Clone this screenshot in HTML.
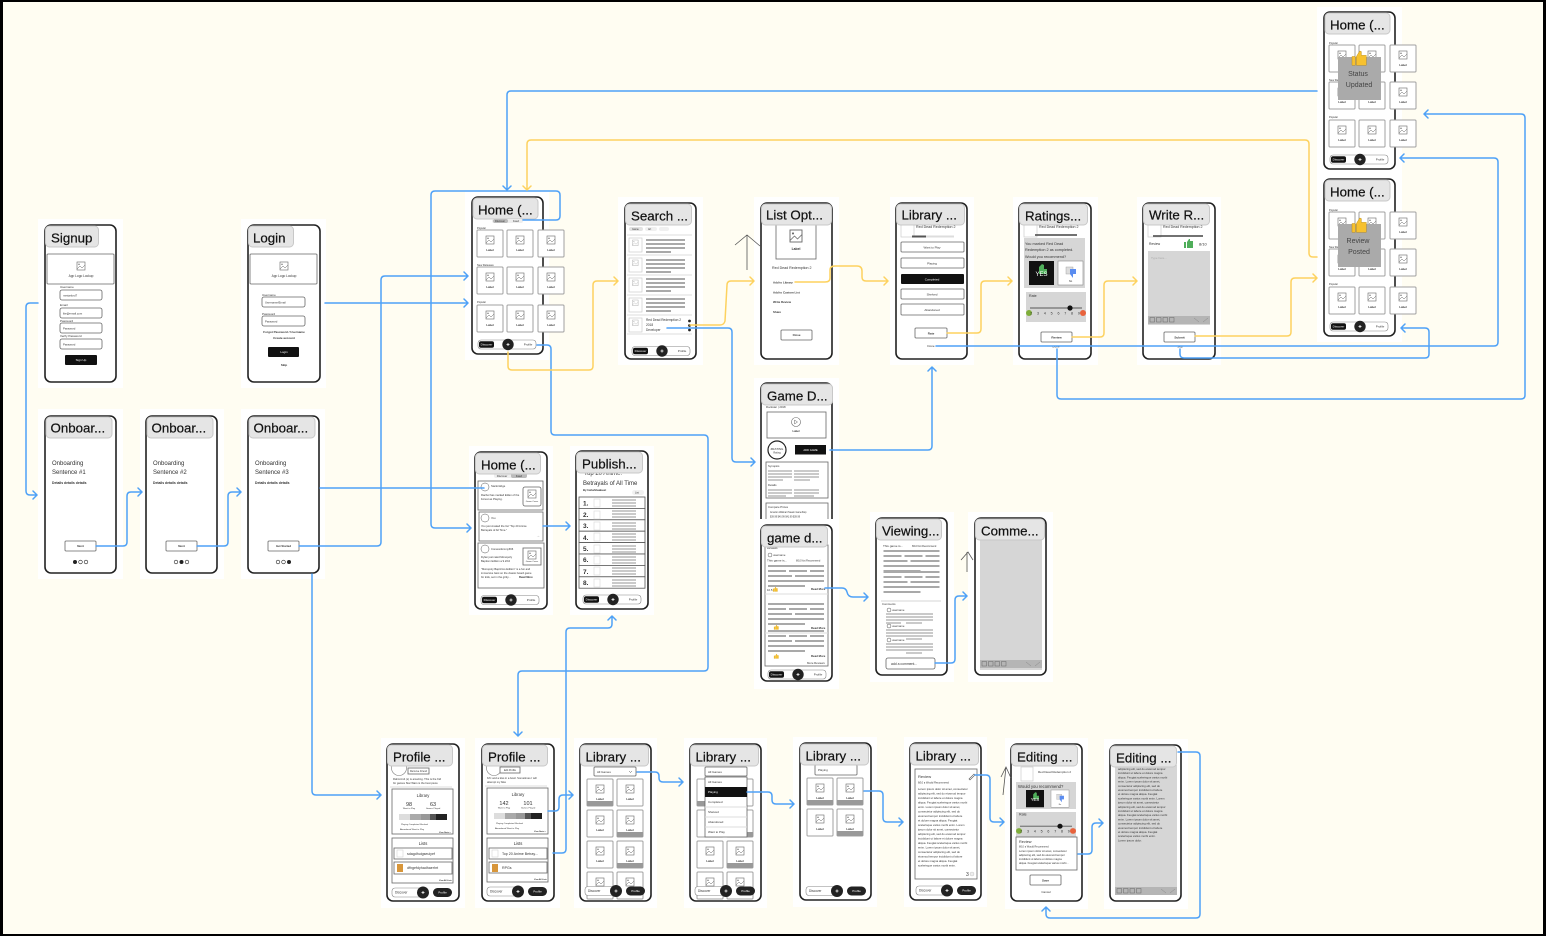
<!DOCTYPE html>
<html><head><meta charset="utf-8"><title>Wireframe flow</title>
<style>
html,body{margin:0;padding:0;background:#000}
svg{display:block}
text{font-family:"Liberation Sans",sans-serif;fill:#333;font-size:3.4px}
.p{fill:#fff;stroke:#222;stroke-width:1.6}
.tb{fill:#e5e5e5;stroke:#c8c8c8;stroke-width:1}
text.tt{font-size:13.3px;fill:#111;stroke:#111;stroke-width:.22}
.b{stroke:#a9a9a9;stroke-width:2;fill:none}
.b2{stroke:#aaa;stroke-width:1.3;fill:none}
.d{stroke:#ddd;stroke-width:1;fill:none}
.w{fill:#fff;stroke:#666;stroke-width:.8}
.g{fill:#d6d6d6}
.k{fill:#111}
text.c{text-anchor:middle}
text.bd{font-weight:bold}
text.wt{fill:#fff}
text.m{font-size:5px}
.back{fill:#fff}
.bl{fill:none;stroke:#4ea1f7;stroke-width:1.5;stroke-linejoin:round;stroke-linecap:round}
.yl{fill:none;stroke:#fdd25f;stroke-width:1.5;stroke-linejoin:round;stroke-linecap:round}
.hd{fill:none;stroke:#555;stroke-width:.8}
</style></head><body>
<svg xmlns="http://www.w3.org/2000/svg" width="1546" height="936" viewBox="0 0 1546 936">
<defs>
<g id="ic"><rect width="8" height="8" fill="#fff" stroke="#666" stroke-width=".6"/><circle cx="2" cy="2.3" r=".7" fill="#666"/><path d="M0 7L3 4L5 6L8 3" fill="none" stroke="#666" stroke-width=".5"/></g>
<g id="tile"><rect width="26" height="27" rx="1" fill="#fff" stroke="#a0a0a0" stroke-width="1"/><use href="#ic" x="9" y="6"/><text x="13" y="21" class="c bd" style="font-size:2.800px">Label</text></g>
<g id="tileb"><use href="#tile"/><rect y="22" width="26" height="5" fill="#999"/></g>
<g id="navA"><rect width="58" height="9" rx="3" fill="#fff" stroke="#888" stroke-width=".6"/><rect x="1" y="1.2" width="15" height="6.6" rx="2" class="k"/><text x="8.5" y="5.7" class="c wt" style="font-size:3px">Discover</text><circle cx="30" cy="4.5" r="5.7" fill="#222"/><path d="M28.5 4.5h3M30 3v3" stroke="#fff" stroke-width=".8"/><text x="50" y="5.7" class="c" style="font-size:3px">Profile</text></g>
<g id="navB"><rect width="30" height="9" rx="3" fill="#fff" stroke="#888" stroke-width=".6"/><text x="3" y="5.7" style="font-size:3.2px">Discover</text><circle cx="31" cy="4.5" r="6" fill="#222"/><path d="M29.5 4.5h3M31 3v3" stroke="#fff" stroke-width=".8"/><rect x="41" y="0" width="19" height="9" rx="4.5" fill="#222"/><text x="50.5" y="5.7" class="c wt" style="font-size:3px">Profile</text></g>
<g id="home"><rect class="p" width="71" height="157" rx="6"/><text x="5" y="32" style="font-size:2.6px">Popular</text><text x="5" y="69" style="font-size:2.6px">New Releases</text><text x="5" y="106" style="font-size:2.6px">Popular</text>
<use href="#tile" x="5" y="33"/><use href="#tile" x="35" y="33"/><use href="#tile" x="66" y="33"/><use href="#tile" x="5" y="70"/><use href="#tile" x="35" y="70"/><use href="#tile" x="66" y="70"/><use href="#tile" x="5" y="108"/><use href="#tile" x="35" y="108"/><use href="#tile" x="66" y="108"/>
<use href="#navA" x="6" y="143"/><rect class="tb" x="1" y="1" width="65" height="21" rx="4"/><text class="tt" x="6" y="17.500">Home (...</text></g>
<g id="tool"><rect width="62" height="8" fill="#b5b5b5"/><rect x="2" y="1.5" width="4.500" height="4.500" fill="none" stroke="#666" stroke-width=".5"/><rect x="8.500" y="1.500" width="4.500" height="4.500" fill="none" stroke="#666" stroke-width=".5"/><rect x="15" y="1.500" width="4.500" height="4.500" fill="none" stroke="#666" stroke-width=".5"/><rect x="21.500" y="1.500" width="4.500" height="4.500" fill="none" stroke="#666" stroke-width=".5"/><path d="M46 2l5 4M55 6l5-4" stroke="#888" stroke-width=".5"/></g>
<g id="rate"><text x="3" y="5" style="font-size:3.6px">Rate</text><path d="M4 16h52" stroke="#555" stroke-width=".9"/><circle cx="44" cy="16" r="2.6" fill="#111"/><circle cx="3" cy="21" r="3" fill="#7fae3a"/><circle cx="57" cy="21" r="3" fill="#e8623c"/><text x="30" y="22.500" class="c" style="font-size:3.6px" letter-spacing="1.900">2 3 4 5 6 7 8 9</text></g>
<g id="yes"><rect width="25" height="24" class="k"/><path d="M10 11v-5l3-3 2 1v4h3v5h-8z" fill="#4fae5a"/><text x="12.500" y="15" class="c wt" style="font-size:6px">YES</text></g>
<g id="no"><rect width="25" height="24" fill="#fff" stroke="#888" stroke-width=".6"/><rect x="8" y="6" width="7" height="7" fill="#ddd" stroke="#999" stroke-width=".4"/><path d="M12 8h6v5h-3v4l-3-4z" fill="#5a8cf0"/><text x="12.500" y="21" class="c" style="font-size:2.600px">No</text></g>
<path id="th" d="M0 5h3v8H0zM4 5l3-5 1.500.5V4h4.500v2v7H4z" fill="#f7c12f" stroke="#b88a12" stroke-width=".4"/>
<g id="bars4"><path class="b" d="M0 1h39M0 5h39M0 9h39M0 13h25"/></g>
<g id="lines"><path class="b" d="M0 1h56M0 6h18m3 0h18m3 0h14M0 11h24m3 0h29M0 16h56M0 21h37"/></g>
</defs>
<rect x="0" y="0" width="1546" height="936" fill="#000"/>
<rect x="3" y="2" width="1540" height="932" fill="#fffdf2"/>

<!-- white backings -->
<g class="back">
<rect x="38" y="219" width="85" height="169"/><rect x="241" y="219" width="85" height="169"/>
<rect x="38" y="409" width="85" height="170"/><rect x="140" y="409" width="84" height="170"/><rect x="241" y="409" width="84" height="170"/>
<rect x="465" y="191" width="84" height="169"/><rect x="618" y="197" width="85" height="168"/><rect x="754" y="197" width="85" height="168"/><rect x="890" y="197" width="84" height="168"/><rect x="1013" y="197" width="85" height="168"/><rect x="1137" y="197" width="84" height="168"/>
<rect x="1317" y="7" width="85" height="167"/><rect x="1317" y="174" width="85" height="168"/>
<rect x="754" y="378" width="85" height="142"/><rect x="870" y="512" width="84" height="170"/><rect x="968" y="512" width="85" height="170"/>
<rect x="469" y="446" width="84" height="169"/><rect x="570" y="446" width="84" height="169"/>
<rect x="381" y="738" width="84" height="170"/><rect x="475" y="738" width="85" height="170"/><rect x="574" y="738" width="83" height="170"/><rect x="684" y="738" width="83" height="170"/><rect x="793" y="737" width="84" height="170"/><rect x="904" y="737" width="83" height="170"/><rect x="1005" y="738" width="83" height="171"/><rect x="1104" y="739" width="84" height="170"/>
</g>

<!-- Signup -->
<g transform="translate(45 225)"><rect class="p" width="71" height="157" rx="6"/>
<rect class="w" x="2" y="29" width="67" height="30" rx="1"/><use href="#ic" x="32" y="37"/><text class="c" x="36" y="52" style="font-size:3.2px">App Logo Lockup</text>
<text x="15" y="63" style="font-size:3px">Username</text><rect class="w" x="15" y="65" width="42" height="10" rx="2"/><text x="18" y="71.500" style="font-size:2.800px">mrstarlord7</text>
<text x="15" y="81" style="font-size:3px">Email</text><rect class="w" x="15" y="83" width="42" height="10" rx="2"/><text x="18" y="89.500" style="font-size:2.800px">lite@email.com</text>
<text x="15" y="97" style="font-size:3px">Password</text><rect class="w" x="15" y="98" width="42" height="10" rx="2"/><text x="18" y="104.500" style="font-size:2.800px">Password</text>
<text x="15" y="112" style="font-size:3px">Verify Password</text><rect class="w" x="15" y="114" width="42" height="10" rx="2"/><text x="18" y="120.500" style="font-size:2.800px">Password</text>
<rect class="k" x="20" y="130" width="32" height="10" rx="1"/><text class="c wt" x="36" y="136" style="font-size:3px">Sign Up</text>
<rect class="tb" x="0.500" y="1" width="53" height="21" rx="4"/><text class="tt" x="6" y="17.500">Signup</text></g>

<!-- Login -->
<g transform="translate(248 225)"><rect class="p" width="72" height="157" rx="6"/>
<rect class="w" x="2" y="29" width="67" height="30" rx="1"/><use href="#ic" x="32" y="37"/><text class="c" x="36" y="52" style="font-size:3.2px">App Logo Lockup</text>
<text x="14" y="71" style="font-size:3px">Username</text><rect class="w" x="14" y="72" width="43" height="10" rx="2"/><text x="17" y="78.500" style="font-size:2.800px">Username/Email</text>
<text x="14" y="90" style="font-size:3px">Password</text><rect class="w" x="14" y="91" width="43" height="10" rx="2"/><text x="17" y="97.500" style="font-size:2.800px">Password</text>
<text class="c bd" x="36" y="108" style="font-size:3px">Forgot Password / Username</text><text class="c bd" x="36" y="114" style="font-size:3px">Create account</text>
<rect class="k" x="20" y="122" width="31" height="10" rx="1"/><text class="c wt" x="36" y="128" style="font-size:3px">Login</text><text class="c bd" x="36" y="141" style="font-size:3px">Skip</text>
<rect class="tb" x="0.500" y="1" width="45" height="21" rx="4"/><text class="tt" x="5" y="17.500">Login</text></g>

<!-- Onboarding -->
<g transform="translate(45 416)"><rect class="p" width="71" height="157" rx="6"/><text x="7" y="49" style="font-size:6px">Onboarding</text><text x="7" y="58" style="font-size:6px">Sentence #1</text><text class="bd" x="7" y="68" style="font-size:3.400px">Details details details</text>
<rect class="w" x="20" y="125" width="31" height="10" rx="1"/><text class="c bd" x="35.500" y="131" style="font-size:3px">Next</text>
<circle cx="30" cy="146" r="2" fill="#222"/><circle cx="35.500" cy="146" r="1.800" fill="#fff" stroke="#222" stroke-width=".6"/><circle cx="41" cy="146" r="1.800" fill="#fff" stroke="#222" stroke-width=".6"/>
<rect class="tb" x="1" y="1" width="66" height="21" rx="4"/><text class="tt" x="5.500" y="16.500">Onboar...</text></g>
<g transform="translate(146 416)"><rect class="p" width="71" height="157" rx="6"/><text x="7" y="49" style="font-size:6px">Onboarding</text><text x="7" y="58" style="font-size:6px">Sentence #2</text><text class="bd" x="7" y="68" style="font-size:3.400px">Details details details</text>
<rect class="w" x="20" y="125" width="31" height="10" rx="1"/><text class="c bd" x="35.500" y="131" style="font-size:3px">Next</text>
<circle cx="30" cy="146" r="1.800" fill="#fff" stroke="#222" stroke-width=".6"/><circle cx="35.500" cy="146" r="2" fill="#222"/><circle cx="41" cy="146" r="1.800" fill="#fff" stroke="#222" stroke-width=".6"/>
<rect class="tb" x="1" y="1" width="66" height="21" rx="4"/><text class="tt" x="5.500" y="16.500">Onboar...</text></g>
<g transform="translate(248 416)"><rect class="p" width="71" height="157" rx="6"/><text x="7" y="49" style="font-size:6px">Onboarding</text><text x="7" y="58" style="font-size:6px">Sentence #3</text><text class="bd" x="7" y="68" style="font-size:3.400px">Details details details</text>
<rect class="w" x="20" y="125" width="31" height="10" rx="1"/><text class="c bd" x="35.500" y="131" style="font-size:2.800px">Get Started</text>
<circle cx="30" cy="146" r="1.800" fill="#fff" stroke="#222" stroke-width=".6"/><circle cx="35.500" cy="146" r="1.800" fill="#fff" stroke="#222" stroke-width=".6"/><circle cx="41" cy="146" r="2" fill="#222"/>
<rect class="tb" x="1" y="1" width="66" height="21" rx="4"/><text class="tt" x="5.500" y="16.500">Onboar...</text></g>

<!-- Home main -->
<use href="#home" x="472" y="197"/>
<rect x="492" y="219" width="31" height="4" rx="2" fill="#eee"/><rect x="493" y="219" width="15" height="4" rx="2" fill="#bbb"/><text class="c" x="500" y="222" style="font-size:2.600px">Discover</text><text class="c" x="516" y="222" style="font-size:2.600px">Feed</text>

<!-- Search -->
<g transform="translate(625 203)"><rect class="p" width="71" height="156" rx="6"/>
<rect x="4" y="24" width="14" height="4" rx="2" fill="#e2e2e2"/><rect x="20" y="24" width="12" height="4" rx="2" fill="#f0f0f0"/><rect x="34" y="24" width="10" height="4" rx="2" fill="#f0f0f0"/><text x="7" y="27" style="font-size:2.500px">Game</text><text x="23" y="27" style="font-size:2.500px">Art</text>
<path class="d" d="M2 32h65M2 52h65M2 72h65M2 92h65M2 112h65M2 131h65"/>
<g style="fill:#fff;stroke:#ccc;stroke-width:.7"><rect x="4" y="35" width="13" height="14"/><rect x="4" y="55" width="13" height="14"/><rect x="4" y="75" width="13" height="14"/><rect x="4" y="95" width="13" height="14"/><rect x="4" y="115" width="13" height="14"/></g>
<g opacity=".6"><g transform="translate(7.500 37) scale(.7)"><use href="#ic"/></g><g transform="translate(7.500 57) scale(.7)"><use href="#ic"/></g><g transform="translate(7.500 77) scale(.7)"><use href="#ic"/></g><g transform="translate(7.500 97) scale(.7)"><use href="#ic"/></g><g transform="translate(7.500 117) scale(.7)"><use href="#ic"/></g></g>
<use href="#bars4" x="21" y="36"/><use href="#bars4" x="21" y="56"/><use href="#bars4" x="21" y="75"/><use href="#bars4" x="21" y="95"/>
<text x="21" y="118" style="font-size:3.200px">Red Dead Redemption 2</text><text x="21" y="123" style="font-size:3.200px">2018</text><text x="21" y="128" style="font-size:3.200px">Developer</text>
<circle cx="64.500" cy="118" r="1.400" fill="#222"/><circle cx="64.500" cy="122.500" r="1.400" fill="#222"/><circle cx="64.500" cy="127" r="1.400" fill="#222"/>
<use href="#navA" x="7" y="143.500"/>
<rect class="tb" x="0.500" y="1" width="66" height="21" rx="4"/><text class="tt" x="6" y="17.500">Search ...</text></g>

<!-- List Options -->
<g transform="translate(761 203)"><rect class="p" width="71" height="156" rx="6"/><rect class="w" x="15" y="19" width="40" height="37"/>
<g transform="translate(29 27) scale(1.500)"><use href="#ic"/></g><text class="c bd" x="35" y="47" style="font-size:3.400px">Label</text>
<text x="11" y="66" style="font-size:3.600px">Red Dead Redemption 2</text><text class="bd" x="12" y="80.500" style="font-size:2.900px">Add to Library</text><text class="bd" x="12" y="90.500" style="font-size:2.900px">Add to Custom List</text><text class="bd" x="12" y="100" style="font-size:2.900px">Write Review</text><text class="bd" x="12" y="110" style="font-size:2.900px">Share</text>
<rect class="w" x="20" y="127" width="31" height="10" rx="1"/><text class="c bd" x="35.500" y="133" style="font-size:2.900px">Close</text>
<rect class="tb" x="0.500" y="1" width="70" height="21" rx="4"/><text class="tt" x="5" y="16.500">List Opt...</text></g>

<!-- Library status -->
<g transform="translate(896 203)"><rect class="p" width="71" height="156" rx="6"/><rect x="5" y="20" width="13" height="14" fill="#fff" stroke="#ccc" stroke-width=".7"/><text x="20" y="25" style="font-size:3.600px">Red Dead Redemption 2</text><path d="M16 33.500h42" stroke="#ddd" stroke-width="2"/><path d="M16 33.500h14" stroke="#555" stroke-width="2"/>
<rect class="w" x="5" y="39" width="63" height="10" rx="1"/><text class="c" x="36" y="45.500" style="font-size:3px">Want to Play</text><rect class="w" x="5" y="55" width="63" height="10" rx="1"/><text class="c" x="36" y="61.500" style="font-size:3px">Playing</text><rect class="k" x="5" y="71" width="63" height="10" rx="1"/><text class="c wt" x="36" y="77.500" style="font-size:3px">Completed</text><rect class="w" x="5" y="86" width="63" height="10" rx="1"/><text class="c" x="36" y="92.500" style="font-size:3px">Shelved</text><rect class="w" x="5" y="101" width="63" height="11" rx="1"/><text class="c" x="36" y="108" style="font-size:3px">Abandoned</text>
<rect class="w" x="19" y="125" width="32" height="10" rx="1"/><text class="c bd" x="35" y="131.500" style="font-size:3px">Rate</text><text class="c" x="35" y="144" style="font-size:3px">Done</text>
<rect class="tb" x="0.500" y="1" width="68" height="21" rx="4"/><text class="tt" x="5.500" y="16.500">Library ...</text></g>

<!-- Ratings -->
<g transform="translate(1019 203)"><rect class="p" width="72" height="156" rx="6"/><rect x="5" y="20" width="13" height="14" fill="#fff" stroke="#ccc" stroke-width=".7"/><text x="20" y="25" style="font-size:3.600px">Red Dead Redemption 2</text><path d="M16 32h42" stroke="#444" stroke-width="1.600"/>
<rect class="g" x="5" y="35" width="61" height="50"/><text x="6" y="42" style="font-size:3.800px">You marked Red Dead</text><text x="6" y="48" style="font-size:3.800px">Redemption 2 as completed.</text><text x="6" y="55" style="font-size:3.800px">Would you recommend?</text><use href="#yes" x="10" y="58"/><use href="#no" x="39" y="58"/>
<rect class="g" x="7" y="89" width="60" height="30"/><use href="#rate" x="7" y="89"/>
<rect class="w" x="22" y="129" width="31" height="10" rx="1"/><text class="c bd" x="37.500" y="135.500" style="font-size:3px">Review</text><text class="c" x="37" y="144.500" style="font-size:3px">Done</text>
<rect class="tb" x="0.500" y="1" width="68" height="21" rx="4"/><text class="tt" x="6" y="17.500">Ratings...</text></g>

<!-- Write Review -->
<g transform="translate(1143 203)"><rect class="p" width="72" height="156" rx="6"/><rect x="5" y="20" width="13" height="14" fill="#fff" stroke="#ccc" stroke-width=".7"/><text x="20" y="25" style="font-size:3.600px">Red Dead Redemption 2</text><path d="M10 33h50" stroke="#444" stroke-width="1.600"/>
<text x="6" y="42" style="font-size:3.400px">Review</text><path d="M41 39h2v6h-2zM44 39l2-3h1v2h3v7h-6z" fill="#4fae5a"/><text x="56" y="42.500" style="font-size:4px">8/10</text>
<rect class="g" x="5" y="48" width="62" height="74"/><text x="8" y="56" style="font-size:3px;fill:#aaa">Type here...</text><use href="#tool" x="5" y="113"/>
<rect class="w" x="21" y="129" width="31" height="10" rx="1"/><text class="c bd" x="36.500" y="135.500" style="font-size:3px">Submit</text><text class="c" x="37" y="144.500" style="font-size:3px">Skip</text>
<rect class="tb" x="0.500" y="1" width="66" height="21" rx="4"/><text class="tt" x="6" y="16.500">Write R...</text></g>

<!-- Home top right -->
<use href="#home" x="1324" y="12"/>
<rect x="1338" y="57" width="43" height="43" fill="#aaa"/><use href="#th" transform="translate(1352 51) scale(1.100)"/><text class="c" x="1358" y="76" style="font-size:7px;fill:#444">Status</text><text class="c" x="1359" y="87" style="font-size:7px;fill:#444">Updated</text>
<use href="#home" x="1324" y="179"/>
<rect x="1338" y="224" width="43" height="43" fill="#aaa"/><use href="#th" transform="translate(1352 218) scale(1.100)"/><text class="c" x="1358" y="243" style="font-size:7px;fill:#444">Review</text><text class="c" x="1359" y="254" style="font-size:7px;fill:#444">Posted</text>

<!-- Game Details -->
<g transform="translate(761 383)"><rect class="p" width="71" height="145" rx="6"/><text x="5" y="25" style="font-size:2.800px">Rockstar | 2018</text>
<rect class="w" x="6" y="29" width="59" height="26"/><circle cx="35" cy="39" r="4.500" fill="#fff" stroke="#666" stroke-width=".6"/><path d="M33.500 37v4l3-2z" fill="none" stroke="#666" stroke-width=".5"/><text class="c bd" x="35" y="49" style="font-size:2.700px">Label</text>
<circle cx="16" cy="67" r="9" fill="#fff" stroke="#222" stroke-width="1.200"/><text class="c" x="16" y="67" style="font-size:3px">#RATING</text><text class="c" x="16" y="70.500" style="font-size:2.500px">Rating</text><rect class="k" x="34" y="62" width="31" height="9.500"/><text class="c wt" x="49.500" y="68" style="font-size:2.700px">ADD GAME</text>
<rect class="w" x="5" y="79" width="62" height="36"/><text x="7" y="84" style="font-size:2.800px">Synopsis</text><path class="b2" d="M7 88h24M33 88h25M7 91h24M33 91h25M7 94h24M33 94h25M7 97h15M33 97h16"/><text x="7" y="103" style="font-size:2.800px">Details</text><path class="b2" d="M7 107h24M33 107h25M7 110h24M33 110h25M7 113h18M33 113h20"/>
<rect class="w" x="5" y="120" width="62" height="22"/><text x="7" y="125" style="font-size:2.800px">Compare Prices</text><text x="9" y="130" style="font-size:2.300px">Amazon   Walmart   Steam   GameStop</text><text x="9" y="134.500" style="font-size:2.300px">$39.99    $40.99    $41.99    $39.99</text>
<rect class="tb" x="0.500" y="1" width="71" height="21" rx="4"/><text class="tt" x="6" y="17.500">Game D...</text></g>

<rect class="back" x="754" y="519" width="85" height="170"/>
<!-- game details reviews -->
<g transform="translate(761 525)"><rect class="p" width="71" height="156" rx="6"/><rect class="w" x="4" y="20" width="63" height="121"/><text x="6" y="24" style="font-size:2.800px">Reviews</text>
<circle cx="9" cy="30" r="2" fill="#fff" stroke="#555" stroke-width=".5"/><text x="12" y="31" style="font-size:2.800px">username</text><text x="6" y="36.500" style="font-size:3.100px">This game is...</text><text x="35" y="36.500" style="font-size:2.500px">8/10   Not Recommend</text>
<g transform="translate(7 40)"><use href="#lines"/></g><text x="6" y="66" style="font-size:2.800px">10.5</text><use href="#th" transform="translate(12 62) scale(.35)"/><text class="bd" x="50" y="65" style="font-size:2.800px">Read More</text>
<path class="d" d="M4 69h63"/><g transform="translate(7 78)"><use href="#lines"/></g><use href="#th" transform="translate(13 100) scale(.35)"/><text class="bd" x="50" y="104" style="font-size:2.800px">Read More</text>
<path class="d" d="M4 108h63"/><g transform="translate(7 105)"><use href="#lines"/></g><use href="#th" transform="translate(13 129) scale(.35)"/><text class="bd" x="50" y="132" style="font-size:2.800px">Read More</text><text x="46" y="139" style="font-size:2.800px">More Reviews</text>
<use href="#navA" x="7" y="145"/>
<rect class="tb" x="0.500" y="1" width="66" height="21" rx="4"/><text class="tt" x="6" y="17.500">game d...</text></g>

<!-- Viewing -->
<g transform="translate(876 518)"><rect class="p" width="71" height="157" rx="6"/><text x="7" y="29" style="font-size:3.100px">This game is...</text><text x="36" y="29" style="font-size:2.500px">8/10   Not Recommend</text>
<g transform="translate(7.500 32)"><use href="#lines"/></g><g transform="translate(7.500 53)"><use href="#lines"/></g><path d="M5 83h60" stroke="#ddd" stroke-width="1.200"/><text x="6" y="85" style="font-size:2.800px" dy="2">Comments</text>
<circle cx="13" cy="92" r="2" fill="#fff" stroke="#555" stroke-width=".5"/><text x="16" y="93" style="font-size:2.800px">username</text><path class="b2" d="M10 96h47M10 99h47M10 102h47M10 105h15M30 105h16"/>
<circle cx="13" cy="108" r="2" fill="#fff" stroke="#555" stroke-width=".5"/><text x="16" y="109" style="font-size:2.800px">username</text><path class="b2" d="M10 112h47M10 115h47M10 118h47M30 121h16"/>
<circle cx="13" cy="122" r="2" fill="#fff" stroke="#555" stroke-width=".5"/><text x="16" y="123" style="font-size:2.800px">username</text><path class="b2" d="M10 126h47M10 129h47M10 132h47M30 135h16"/>
<rect class="w" x="10" y="140" width="49" height="11" rx="2"/><text x="15" y="147" style="font-size:3.400px">add a comment...</text>
<rect class="tb" x="0.500" y="1" width="65" height="21" rx="4"/><text class="tt" x="6" y="17.500">Viewing...</text></g>

<!-- Comment -->
<g transform="translate(975 518)"><rect class="p" width="71" height="157" rx="6"/><rect class="g" x="5" y="20" width="62" height="132"/><use href="#tool" x="5" y="142"/><rect class="tb" x="0.500" y="1" width="69" height="21" rx="4"/><text class="tt" x="6" y="17.500">Comme...</text></g>

<!-- Home feed -->
<g transform="translate(475 452)"><rect class="p" width="72" height="157" rx="6"/>
<rect x="19" y="21" width="33" height="5" rx="2" fill="#eee"/><rect x="36" y="21" width="16" height="5" rx="2" fill="#bbb"/><text class="c" x="27" y="25" style="font-size:2.700px">Discover</text><text class="c" x="44" y="25" style="font-size:2.700px">Feed</text>
<rect class="w" x="3" y="29" width="65" height="29"/><circle cx="10" cy="35" r="4" fill="#fff" stroke="#555" stroke-width=".5"/><text x="16" y="35" style="font-size:2.700px">StarlordAge</text><text x="6" y="44" style="font-size:2.700px">Rachel has marked Elden of the</text><text x="6" y="48" style="font-size:2.700px">Forest as Playing.</text><rect class="w" x="48" y="35" width="18" height="19" rx="2"/><use href="#ic" x="53" y="38"/><text class="c" x="57" y="50" style="font-size:2.200px">Game Cover</text>
<rect class="w" x="4" y="60" width="64" height="29"/><circle cx="10" cy="66" r="4" fill="#fff" stroke="#555" stroke-width=".5"/><text x="16" y="67" style="font-size:2.700px">You</text><text x="6" y="75" style="font-size:2.700px">You just created the list "Top 20 Anime</text><text x="6" y="79" style="font-size:2.700px">Betrayals of All Time."</text><text x="61" y="85" style="font-size:4px;fill:#999">&#8594;</text>
<rect class="w" x="3" y="91" width="66" height="45"/><circle cx="10" cy="97" r="4" fill="#fff" stroke="#555" stroke-width=".5"/><text x="16" y="98" style="font-size:2.700px">ComeonEmmy666</text><text x="6" y="106" style="font-size:2.700px">Dylan just rated Monopoly</text><text x="6" y="110" style="font-size:2.700px">Baptism Edition a 9.2/10</text><rect class="w" x="48" y="96" width="18" height="17"/><use href="#ic" x="53" y="99"/><text class="c" x="57" y="110" style="font-size:2.200px">Game Cover</text><text x="6" y="118" style="font-size:2.700px">"Monopoly Baptizmo Edition" is a fun and</text><text x="6" y="122" style="font-size:2.700px">immersive twist on the classic board game</text><text x="6" y="126" style="font-size:2.700px">for kids, set in the gritty...</text><text class="bd" x="44" y="126" style="font-size:2.700px">Read More</text>
<use href="#navA" x="6" y="143.500"/>
<rect class="tb" x="0.500" y="1" width="65" height="21" rx="4"/><text class="tt" x="6" y="17.500">Home (...</text></g>

<!-- Published list -->
<g transform="translate(576 451)"><rect class="p" width="72" height="158" rx="6"/><text x="8" y="24" style="font-size:6px">Top 20 Anime:</text><text x="7" y="34" style="font-size:6px">Betrayals of All Time</text><text class="bd" x="7" y="40" style="font-size:2.800px">By hahahhaabeet</text><rect x="56" y="39" width="12" height="5" rx="2.500" fill="#f1f1f1"/><text x="59" y="42.500" style="font-size:2.500px">List</text>
<g style="fill:#fff;stroke:#555;stroke-width:.8"><rect x="3" y="46" width="66" height="11.400"/><rect x="3" y="57.400" width="66" height="11.400"/><rect x="3" y="68.800" width="66" height="11.400"/><rect x="3" y="80.200" width="66" height="11.400"/><rect x="3" y="91.600" width="66" height="11.400"/><rect x="3" y="103" width="66" height="11.400"/><rect x="3" y="114.400" width="66" height="11.400"/><rect x="3" y="125.800" width="66" height="11.400"/></g>
<g style="font-size:6.500px"><text class="bd" style="font-size:6.500px" x="7" y="54.500">1.</text><text class="bd" style="font-size:6.500px" x="7" y="66">2.</text><text class="bd" style="font-size:6.500px" x="7" y="77">3.</text><text class="bd" style="font-size:6.500px" x="7" y="89">4.</text><text class="bd" style="font-size:6.500px" x="7" y="100">5.</text><text class="bd" style="font-size:6.500px" x="7" y="111">6.</text><text class="bd" style="font-size:6.500px" x="7" y="123">7.</text><text class="bd" style="font-size:6.500px" x="7" y="134">8.</text></g>
<path class="b2" d="M36 49h24M36 52h24M36 55h24M36 60h24M36 63h24M36 66h24M36 72h24M36 75h24M36 78h24M36 83h24M36 86h24M36 89h24M36 95h24M36 98h24M36 101h24M36 106h24M36 109h24M36 112h24M36 117h24M36 120h24M36 123h24M36 129h24M36 132h24M36 135h24"/>
<g fill="none" stroke="#ddd" stroke-width=".7"><rect x="18" y="48" width="6" height="8"/><rect x="18" y="60" width="6" height="8"/><rect x="18" y="71" width="6" height="8"/><rect x="18" y="82" width="6" height="8"/><rect x="18" y="94" width="6" height="8"/><rect x="18" y="105" width="6" height="8"/><rect x="18" y="116" width="6" height="8"/><rect x="18" y="128" width="6" height="8"/></g>
<use href="#navA" x="7" y="144"/>
<rect class="tb" x="0.500" y="1" width="66" height="21" rx="4"/><text class="tt" x="6" y="17.500">Publish...</text></g>

<!-- Profile 1 -->
<g transform="translate(387 744)"><rect class="p" width="72" height="157" rx="6"/><circle cx="12" cy="24" r="7.500" fill="#fff" stroke="#777" stroke-width=".6"/><rect class="w" x="21" y="24" width="21" height="6"/><text class="c" x="31.500" y="28" style="font-size:2.500px">Remove Friend</text>
<text x="6" y="36" style="font-size:2.700px">Rahmin14 (s) is amazing. This is the Kid</text><text x="6" y="40" style="font-size:2.700px">for games Star Wars is the best piece</text><path class="d" d="M3 43h62"/>
<rect class="w" x="5" y="45" width="61" height="45" stroke="#444"/><text class="c" x="36" y="53" style="font-size:4.200px">Library</text><text class="c" x="22" y="62" style="font-size:5.500px">98</text><text class="c" x="46" y="62" style="font-size:5.500px">63</text><text class="c" x="22" y="65" style="font-size:2.200px">Want to Play</text><text class="c" x="46" y="65" style="font-size:2.200px">Games Played</text>
<rect x="12" y="70" width="11" height="6" fill="#ddd"/><rect x="23" y="70" width="11" height="6" fill="#aaa"/><rect x="34" y="70" width="9" height="6" fill="#999"/><rect x="43" y="70" width="6" height="6" fill="#555"/><rect x="49" y="70" width="11" height="6" fill="#222"/><text x="14" y="81" style="font-size:2.200px">Playing   Completed   Shelved</text><text x="13" y="86" style="font-size:2.200px">Abandoned   Want to Play</text><text class="bd" x="52" y="89" style="font-size:2px">View Stats &gt;</text>
<rect class="w" x="5" y="94" width="61" height="45" stroke="#444"/><text class="c" x="36" y="101" style="font-size:4.200px">Lists</text><rect class="w" x="7" y="104" width="58" height="11" stroke="#444"/><rect x="10" y="106" width="6" height="7" fill="#fff" stroke="#ccc" stroke-width=".5"/><text x="20" y="111" style="font-size:3.600px">sdagdhuigseuiyef</text><rect class="w" x="7" y="118" width="58" height="12" stroke="#444"/><rect x="10" y="120" width="6" height="8" fill="#d8963a"/><text x="20" y="125" style="font-size:3.600px">dfhgefdyhadhaerhrt</text><text class="bd" x="52" y="137" style="font-size:2px">View All Lists</text>
<use href="#navB" x="5" y="144"/>
<rect class="tb" x="0.500" y="1" width="65" height="21" rx="4"/><text class="tt" x="6" y="17.500">Profile ...</text></g>

<!-- Profile 2 -->
<g transform="translate(482 744)"><rect class="p" width="72" height="157" rx="6"/><circle cx="12" cy="24" r="7.500" fill="#fff" stroke="#777" stroke-width=".6"/><rect class="w" x="18" y="23" width="20" height="6"/><text class="c" x="28" y="27" style="font-size:2.500px">Edit Profile</text>
<text x="5" y="35" style="font-size:2.700px">K/C and a kiss in a bowl. Sometimes I will</text><text x="5" y="39" style="font-size:2.700px">attempt my bike</text><path class="d" d="M3 42h62"/>
<rect class="w" x="5" y="44" width="61" height="46" stroke="#444"/><text class="c" x="36" y="52" style="font-size:4.200px">Library</text><text class="c" x="22" y="61" style="font-size:5.500px">142</text><text class="c" x="46" y="61" style="font-size:5.500px">101</text><text class="c" x="22" y="64.500" style="font-size:2.200px">Want to Play</text><text class="c" x="46" y="64.500" style="font-size:2.200px">Games Played</text>
<rect x="12" y="69" width="11" height="6" fill="#ddd"/><rect x="23" y="69" width="11" height="6" fill="#aaa"/><rect x="34" y="69" width="9" height="6" fill="#999"/><rect x="43" y="69" width="6" height="6" fill="#555"/><rect x="49" y="69" width="11" height="6" fill="#222"/><text x="14" y="80" style="font-size:2.200px">Playing   Completed   Shelved</text><text x="13" y="85" style="font-size:2.200px">Abandoned   Want to Play</text><text class="bd" x="52" y="88" style="font-size:2px">View Stats &gt;</text>
<rect class="w" x="5" y="94" width="61" height="44" stroke="#444"/><text class="c" x="36" y="101" style="font-size:4.200px">Lists</text><rect class="w" x="7" y="104" width="58" height="11" stroke="#444"/><rect x="10" y="106" width="6" height="7" fill="#fff" stroke="#ccc" stroke-width=".5"/><text x="20" y="111" style="font-size:3.600px">Top 20 Anime Betray...</text><rect class="w" x="7" y="118" width="58" height="11" stroke="#444"/><rect x="10" y="120" width="6" height="8" fill="#d8963a"/><text x="20" y="125" style="font-size:3.600px">RPGs</text><text class="bd" x="52" y="136" style="font-size:2px">View All Lists</text>
<use href="#navB" x="5" y="143"/>
<rect class="tb" x="0.500" y="1" width="65" height="21" rx="4"/><text class="tt" x="6" y="17.500">Profile ...</text></g>

<!-- Library 3 -->
<g transform="translate(580 744)"><rect class="p" width="71" height="157" rx="6"/><rect class="w" x="14" y="23" width="42" height="9" rx="1"/><text x="17" y="29" style="font-size:3px">All Games</text><path d="M49 27l1.500 1.500L52 27" fill="none" stroke="#555" stroke-width=".5"/>
<use href="#tileb" x="7" y="35"/><use href="#tile" x="37" y="35"/><use href="#tile" x="7" y="66"/><use href="#tileb" x="37" y="66"/><use href="#tile" x="7" y="97"/><use href="#tileb" x="37" y="97"/><use href="#tile" x="7" y="128"/><use href="#tile" x="37" y="128"/>
<use href="#navB" x="5" y="142.500"/>
<rect class="tb" x="0.500" y="1" width="68" height="21" rx="4"/><text class="tt" x="5.500" y="17.500">Library ...</text></g>

<!-- Library 4 -->
<g transform="translate(690 744)"><rect class="p" width="71" height="157" rx="6"/><rect class="w" x="15" y="23" width="42" height="9" rx="1"/><text x="18" y="29" style="font-size:3px">All Games</text>
<use href="#tileb" x="7" y="35"/><use href="#tile" x="37" y="35"/><use href="#tile" x="7" y="66"/><use href="#tileb" x="37" y="66"/><use href="#tile" x="7" y="97"/><use href="#tileb" x="37" y="97"/><use href="#tile" x="7" y="128"/><use href="#tile" x="37" y="128"/>
<rect class="w" x="15" y="33" width="42" height="60"/><rect class="k" x="15" y="43" width="42" height="10"/><path class="d" d="M15 63h42M15 73h42M15 83h42"/>
<text x="18" y="39" style="font-size:3px">All Games</text><text class="wt" x="18" y="49" style="font-size:3px">Playing</text><text x="18" y="59" style="font-size:3px">Completed</text><text x="18" y="69" style="font-size:3px">Shelved</text><text x="18" y="79" style="font-size:3px">Abandoned</text><text x="18" y="89" style="font-size:3px">Want to Play</text>
<use href="#navB" x="5" y="142.500"/>
<rect class="tb" x="0.500" y="1" width="68" height="21" rx="4"/><text class="tt" x="5.500" y="17.500">Library ...</text></g>

<!-- Library 5 -->
<g transform="translate(800 743)"><rect class="p" width="71" height="157" rx="6"/><rect class="w" x="15" y="22" width="42" height="10" rx="1"/><text x="18" y="28" style="font-size:3px">Playing</text>
<use href="#tileb" x="7" y="35"/><use href="#tileb" x="37" y="35"/><use href="#tile" x="7" y="66"/><use href="#tileb" x="37" y="66"/>
<use href="#navB" x="6" y="143.500"/>
<rect class="tb" x="0.500" y="1" width="68" height="21" rx="4"/><text class="tt" x="5.500" y="17.500">Library ...</text></g>

<!-- Library 6 -->
<g transform="translate(910 743)"><rect class="p" width="71" height="157" rx="6"/><rect class="w" x="5" y="26" width="62" height="110" stroke="#444"/><text x="8" y="35" style="font-size:4px">Review</text><text x="8" y="40.500" style="font-size:2.600px">8/10   &#9679; Would Recommend</text>
<g style="font-size:2.800px"><text style="font-size:2.800px" x="8" y="47">Lorem ipsum dolor sit amet, consectetur</text><text style="font-size:2.800px" x="8" y="51.500">adipiscing elit, sed do eiusmod tempor</text><text style="font-size:2.800px" x="8" y="56">incididunt ut labore et dolore magna</text><text style="font-size:2.800px" x="8" y="60.500">aliqua. Feugiat scelerisque varius morbi</text><text style="font-size:2.800px" x="8" y="65">enim. Lorem ipsum dolor sit amet,</text><text style="font-size:2.800px" x="8" y="69.500">consectetur adipiscing elit, sed do</text><text style="font-size:2.800px" x="8" y="74">eiusmod tempor incididunt ut labore</text><text style="font-size:2.800px" x="8" y="78.500">et dolore magna aliqua. Feugiat</text><text style="font-size:2.800px" x="8" y="83">scelerisque varius morbi enim. Lorem</text><text style="font-size:2.800px" x="8" y="87.500">ipsum dolor sit amet, consectetur</text><text style="font-size:2.800px" x="8" y="92">adipiscing elit, sed do eiusmod tempor</text><text style="font-size:2.800px" x="8" y="96.500">incididunt ut labore et dolore magna</text><text style="font-size:2.800px" x="8" y="101">aliqua. Feugiat scelerisque varius morbi</text><text style="font-size:2.800px" x="8" y="105.500">enim. Lorem ipsum dolor sit amet,</text><text style="font-size:2.800px" x="8" y="110">consectetur adipiscing elit, sed do</text><text style="font-size:2.800px" x="8" y="114.500">eiusmod tempor incididunt ut labore</text><text style="font-size:2.800px" x="8" y="119">et dolore magna aliqua. Feugiat</text><text style="font-size:2.800px" x="8" y="123.500">scelerisque varius morbi enim.</text></g>
<text x="56" y="133" style="font-size:5px">3</text><circle cx="62" cy="131" r="2" fill="#eee" stroke="#bbb" stroke-width=".4"/><path d="M59 36l5-5 1 1-5 5z" fill="#fff" stroke="#555" stroke-width=".6"/>
<use href="#navB" x="6" y="143"/>
<rect class="tb" x="0.500" y="1" width="68" height="21" rx="4"/><text class="tt" x="5.500" y="17.500">Library ...</text></g>

<!-- Editing -->
<g transform="translate(1011 744)"><rect class="p" width="71" height="157" rx="6"/><rect x="10" y="23" width="12" height="14" fill="#fff" stroke="#ccc" stroke-width=".7"/><text x="27" y="29" style="font-size:3px">Red Dead Redemption 2</text>
<rect class="g" x="5" y="38" width="60" height="27"/><text x="7" y="44" style="font-size:4.200px">Would you recommend?</text><use href="#yes" transform="translate(15 46) scale(.72)"/><use href="#no" transform="translate(40 46) scale(.72)"/>
<rect class="g" x="5" y="68" width="60" height="26"/><g transform="translate(5 67) scale(1 .95)"><use href="#rate"/></g>
<rect class="w" x="5" y="93" width="61" height="33" stroke="#444"/><text x="8" y="99" style="font-size:3.800px">Review</text><text x="8" y="103.500" style="font-size:2.500px">8/10   &#9679; Would Recommend</text><text x="8" y="108" style="font-size:2.700px">Lorem ipsum dolor sit amet, consectetur</text><text x="8" y="112" style="font-size:2.700px">adipiscing elit, sed do eiusmod tempor</text><text x="8" y="116" style="font-size:2.700px">incididunt ut labore et dolore magna</text><text x="8" y="120" style="font-size:2.700px">aliqua. Feugiat scelerisque varius morbi...</text>
<rect class="w" x="19" y="131" width="31" height="10" rx="1"/><text class="c bd" x="34.500" y="137.500" style="font-size:3px">Save</text><text class="c" x="35" y="149" style="font-size:3px">Cancel</text>
<rect class="tb" x="0.500" y="1" width="66" height="21" rx="4"/><text class="tt" x="6" y="17.500">Editing ...</text></g>

<!-- Editing 2 -->
<g transform="translate(1110 745)"><rect class="p" width="71" height="156" rx="6"/><rect class="g" x="5" y="20" width="62" height="130"/>
<g><text x="8" y="25" style="font-size:2.800px">adipiscing elit, sed do eiusmod tempor</text><text x="8" y="29.200" style="font-size:2.800px">incididunt ut labore et dolore magna</text><text x="8" y="33.400" style="font-size:2.800px">aliqua. Feugiat scelerisque varius morbi</text><text x="8" y="37.600" style="font-size:2.800px">enim. Lorem ipsum dolor sit amet,</text><text x="8" y="41.800" style="font-size:2.800px">consectetur adipiscing elit, sed do</text><text x="8" y="46" style="font-size:2.800px">eiusmod tempor incididunt ut labore</text><text x="8" y="50.200" style="font-size:2.800px">et dolore magna aliqua. Feugiat</text><text x="8" y="54.400" style="font-size:2.800px">scelerisque varius morbi enim. Lorem</text><text x="8" y="58.600" style="font-size:2.800px">ipsum dolor sit amet, consectetur</text><text x="8" y="62.800" style="font-size:2.800px">adipiscing elit, sed do eiusmod tempor</text><text x="8" y="67" style="font-size:2.800px">incididunt ut labore et dolore magna</text><text x="8" y="71.200" style="font-size:2.800px">aliqua. Feugiat scelerisque varius morbi</text><text x="8" y="75.400" style="font-size:2.800px">enim. Lorem ipsum dolor sit amet,</text><text x="8" y="79.600" style="font-size:2.800px">consectetur adipiscing elit, sed do</text><text x="8" y="83.800" style="font-size:2.800px">eiusmod tempor incididunt ut labore</text><text x="8" y="88" style="font-size:2.800px">et dolore magna aliqua. Feugiat</text><text x="8" y="92.200" style="font-size:2.800px">scelerisque varius morbi enim.</text><text x="8" y="96.400" style="font-size:2.800px">Lorem ipsum dolor.</text></g>
<use href="#tool" x="5" y="142"/>
<rect class="tb" x="0.500" y="1" width="66" height="21" rx="4"/><text class="tt" x="6" y="17.500">Editing ...</text></g>

<!-- Hand-drawn arrows -->
<g class="hd"><path d="M747 270V235M735 245L747 235L760 246"/><path d="M967 572V552M961 560L968 552L973 560"/><path d="M1003 795L1006 767M1001 777L1006 767L1011 778"/></g>

<!-- Blue connectors -->
<g class="bl">
<path d="M38 303H30Q26 303 26 307V491Q26 495 30 495H37M33 491L37 495L33 499"/>
<path d="M96 546H123Q127 546 127 542V496Q127 492 131 492H142M138 488L142 492L138 496"/>
<path d="M197 546H224Q228 546 228 542V496Q228 492 232 492H241M237 488L241 492L237 496"/>
<path d="M299 546H377Q381 546 381 542V280Q381 276 385 276H468M464 272L468 276L464 280"/>
<path d="M325 303H468M464 299L468 303L464 307"/>
<path d="M320 488H484"/>
<path d="M312 574V791Q312 795 316 795H381M377 791L381 795L377 799"/>
<path d="M523 220H556Q560 220 560 216V195Q560 191 556 191H435Q431 191 431 195V524Q431 528 435 528H471M467 524L471 528L467 532"/>
<path d="M1317 91H511Q507 91 507 95V190M503 186L507 190L511 186"/>
<path d="M537 345H547Q551 345 551 349V431Q551 435 555 435H704Q708 435 708 439V667Q708 671 704 671H522Q518 671 518 675V736M514 732L518 736L522 732"/>
<path d="M667 328H728Q732 328 732 332V458Q732 462 736 462H755M751 458L755 462L751 466"/>
<path d="M830 450H928Q932 450 932 446V367M928 371L932 367L936 371"/>
<path d="M936 346H1494Q1498 346 1498 342V162Q1498 158 1494 158H1400M1404 154L1400 158L1404 162"/>
<path d="M1057 349V395Q1057 399 1061 399H1521Q1525 399 1525 395V118Q1525 114 1521 114H1424M1428 110L1424 114L1428 118"/>
<path d="M1180 349V354Q1180 358 1184 358H1425Q1429 358 1429 354V332Q1429 328 1425 328H1401M1405 324L1401 328L1405 332"/>
<path d="M543 526H570M566 522L570 526L566 530"/>
<path d="M553 853H562Q566 853 566 849V632Q566 628 570 628H608Q612 628 612 624V616M608 620L612 616L616 620"/>
<path d="M548 811H555Q559 811 559 807V799Q559 795 563 795H573M569 791L573 795L569 799"/>
<path d="M637 772H655Q659 772 659 776V778Q659 782 663 782H683M679 778L683 782L679 786"/>
<path d="M747 792H768Q772 792 772 796V800Q772 804 776 804H794M790 800L794 804L790 808"/>
<path d="M864 791H879Q883 791 883 795V818Q883 822 887 822H903M899 818L903 822L899 826"/>
<path d="M975 775H986Q990 775 990 779V818Q990 822 994 822H1004M1000 818L1004 822L1000 826"/>
<path d="M1078 854H1088Q1092 854 1092 850V827Q1092 823 1096 823H1103M1099 819L1103 823L1099 827"/>
<path d="M1178 752H1196Q1200 752 1200 756V914Q1200 918 1196 918H1050Q1046 918 1046 914V907M1042 911L1046 907L1050 911"/>
<path d="M825 588H842Q846 588 847 592Q848 597 853 597H868M864 593L868 597L864 601"/>
<path d="M935 663H951Q955 663 955 659V600Q955 596 959 596H967M963 592L967 596L963 600"/>
</g>

<!-- Yellow connectors -->
<g class="yl">
<path d="M508 352V366Q508 370 512 370H589Q593 370 593 366V285Q593 281 597 281H618M614 277L618 281L614 285"/>
<path d="M690 325H720Q724 325 725 321L727 285Q727 281 731 281H754M750 277L754 281L750 285"/>
<path d="M795 282H825Q830 282 830 278V270Q830 266 835 266H857Q862 266 862 271V277Q862 281 866 281H888M884 277L888 281L884 285"/>
<path d="M947 333H977Q981 333 981 329V285Q981 281 985 281H1012M1008 277L1012 281L1008 285"/>
<path d="M1072 337H1100Q1104 337 1104 333V285Q1104 281 1108 281H1137M1133 277L1137 281L1133 285"/>
<path d="M1195 336H1287Q1291 336 1291 332V282Q1291 278 1295 278H1317M1313 274L1317 278L1313 282"/>
<path d="M1317 257H1313Q1309 257 1309 253V144Q1309 140 1305 140H531Q527 140 527 144V190M523 186L527 190L531 186"/>
</g>
</svg>
</body></html>
